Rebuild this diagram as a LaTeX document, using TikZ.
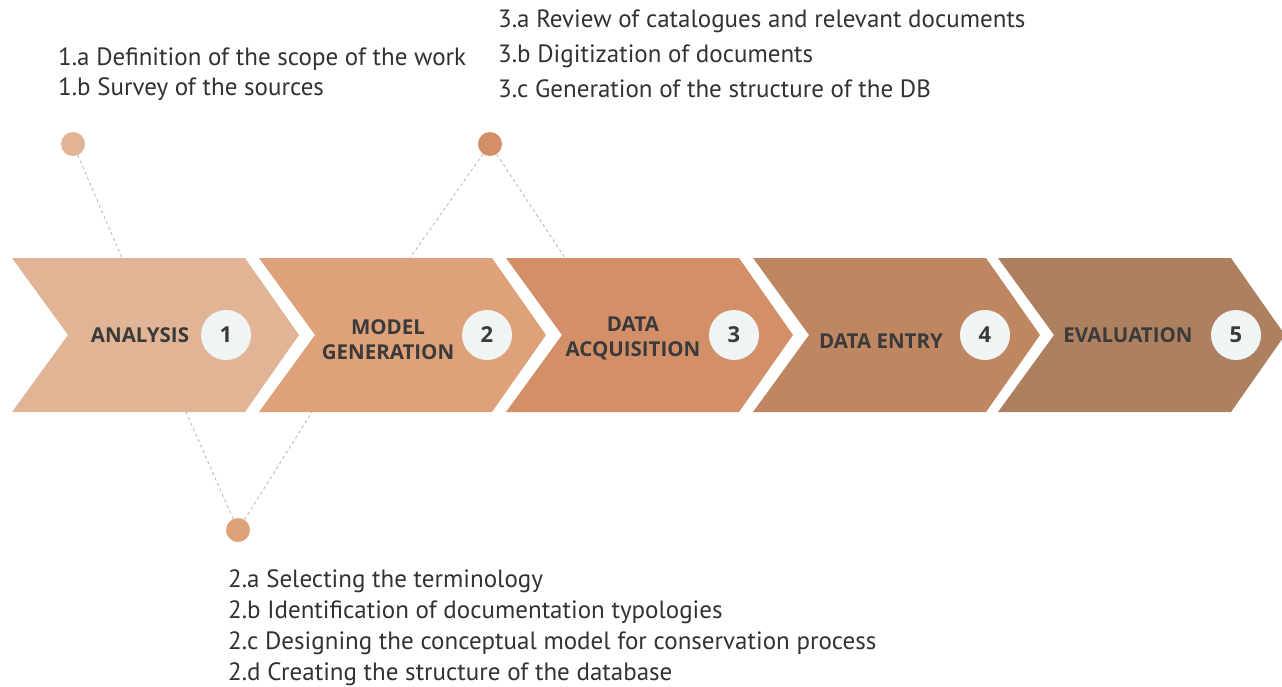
\documentclass[tikz,border=0pt]{standalone}
\usepackage{fontspec}
\setmainfont{PT Sans}
\newfontfamily\labelfont{Open Sans}
\usetikzlibrary{calc}
\definecolor{cA}{RGB}{226,180,150}
\definecolor{cB}{RGB}{223,161,122}
\definecolor{cC}{RGB}{211,143,103}
\definecolor{cD}{RGB}{190,135,98}
\definecolor{cE}{RGB}{173,128,96}
\definecolor{ink}{RGB}{58,58,58}
\definecolor{txt}{RGB}{50,50,50}
\definecolor{disc}{RGB}{240,244,244}
\definecolor{dashgray}{RGB}{180,180,180}
\tikzset{
  stagelabel/.style={font=\labelfont\bfseries\fontsize{20.5}{25}\selectfont, text=ink, align=center, inner sep=0pt},
  numdisc/.style={circle, fill=disc, minimum size=50pt, inner sep=0pt, font=\labelfont\bfseries\fontsize{22}{22}\selectfont, text=ink},
  dot/.style={circle, minimum size=24pt, inner sep=0pt},
  leader/.style={dashgray, dashed, dash pattern=on 3pt off 3pt, line width=0.8pt},
  stepline/.style={font=\fontsize{25}{30}\selectfont, text=txt, anchor=base west, inner sep=0pt},
}
% chevron with left edge at #1 and colour #2
\newcommand{\chev}[2]{%
  \fill[#2] (#1,258) -- ++(233,0) -- ++(54,77) -- ++(-54,77) -- ++(-233,0) -- ++(56,-77) -- cycle;}
\begin{document}
\begin{tikzpicture}[x=1pt,y=-1pt]
\useasboundingbox (0,0) rectangle (1282,686);
\fill[white] (0,0) rectangle (1282,686);

% the five process stages
\chev{12}{cA}
\chev{259}{cB}
\chev{506}{cC}
\chev{753}{cD}
\chev{998}{cE}

\node[stagelabel] (l1) at (140,335) {ANALYSIS};
\node[stagelabel] (l2) at (388,340) {MODEL\\GENERATION};
\node[stagelabel] (l3) at (633,338) {DATA\\ACQUISITION};
\node[stagelabel] (l4) at (881,341) {DATA ENTRY};
\node[stagelabel] (l5) at (1128,335) {EVALUATION};

\node[numdisc] (n1) at (226,335) {1};
\node[numdisc] (n2) at (487,335) {2};
\node[numdisc] (n3) at (734,335) {3};
\node[numdisc] (n4) at (985,335) {4};
\node[numdisc] (n5) at (1236,335) {5};

% markers with their leader lines
\node[dot, fill=cA] (d1) at (73,144) {};
\node[dot, fill=cC] (d3) at (490,144) {};
\node[dot, fill=cB] (d2) at (238,530) {};

\coordinate (a1) at (122,258);
\coordinate (a3l) at (410,258);
\coordinate (a3r) at (565,258);
\coordinate (a2l) at (186,412);
\coordinate (a2r) at (312,412);

\draw[leader] (d1) -- (a1);
\draw[leader] (d3) -- (a3l);
\draw[leader] (d3) -- (a3r);
\draw[leader] (d2) -- (a2l);
\draw[leader] (d2) -- (a2r);

% sub-step lists
\node[stepline] (t1a) at (58,65) {1.a Definition of the scope of the work};
\node[stepline] (t1b) at (58,95) {1.b Survey of the sources};

\node[stepline] (t3a) at (498,27) {3.a Review of catalogues and relevant documents};
\node[stepline] (t3b) at (498,62) {3.b Digitization of documents};
\node[stepline] (t3c) at (498,97) {3.c Generation of the structure of the DB};

\node[stepline] (t2a) at (228,587) {2.a Selecting the terminology};
\node[stepline] (t2b) at (228,618) {2.b Identification of documentation typologies};
\node[stepline] (t2c) at (228,649) {2.c Designing the conceptual model for conservation process};
\node[stepline] (t2d) at (228,680) {2.d Creating the structure of the database};
\end{tikzpicture}
\end{document}
